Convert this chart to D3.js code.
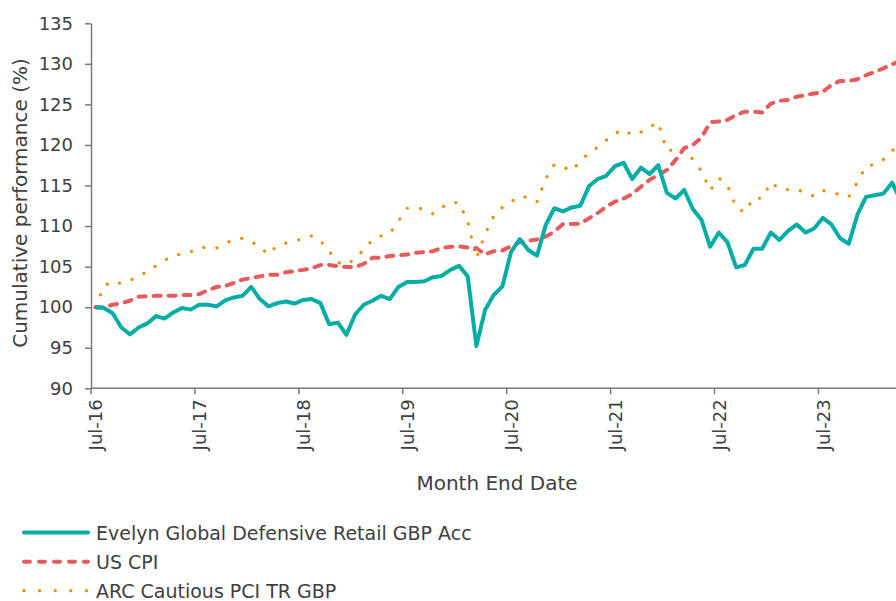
<!DOCTYPE html>
<html>
<head>
<meta charset="utf-8">
<script src="https://cdn.jsdelivr.net/npm/d3@7"></script>
<style>
  html, body { margin: 0; padding: 0; background: #fff; }
  svg { display: block; font-family: "DejaVu Sans", sans-serif; }
</style>
</head>
<body>
<svg id="chart" width="896" height="601"></svg>
<script>
// month-end categories, Jul-16 .. Apr-24
const months = d3.timeMonth.range(new Date(2016, 6, 1), new Date(2024, 4, 1));
const tickLabels = ["Jul-16", "Jul-17", "Jul-18", "Jul-19", "Jul-20", "Jul-21", "Jul-22", "Jul-23"];
const yTicks = [90, 95, 100, 105, 110, 115, 120, 125, 130, 135];

const fund = [
  100.0, 99.9, 99.25, 97.5, 96.65, 97.5, 98.0, 98.9, 98.6, 99.35, 99.9, 99.7,
  100.3, 100.3, 100.1, 100.85, 101.2, 101.4, 102.5, 101.0, 100.1, 100.5, 100.7, 100.45,
  100.9, 101.0, 100.5, 97.9, 98.1, 96.6, 99.1, 100.3, 100.8, 101.4, 101.0, 102.5,
  103.1, 103.1, 103.2, 103.7, 103.85, 104.6, 105.1, 103.8, 95.2, 99.65, 101.5, 102.55,
  106.8, 108.4, 107.05, 106.35, 110.1, 112.2, 111.8, 112.3, 112.5, 114.9, 115.8, 116.2,
  117.4, 117.8, 115.8, 117.2, 116.4, 117.5, 114.1, 113.4, 114.45, 112.1, 110.75, 107.45,
  109.2, 108.0, 104.9, 105.2, 107.2, 107.2, 109.2, 108.3, 109.4, 110.2, 109.2, 109.7,
  111.0, 110.2, 108.5, 107.8, 111.4, 113.6, 113.8, 114.0, 115.35, 113.2
];

const cpi = [
  100.0, 100.0, 100.3, 100.5, 100.8, 101.3, 101.35, 101.4, 101.4, 101.4, 101.5, 101.5,
  101.6, 102.1, 102.5, 102.6, 103.0, 103.4, 103.6, 103.8, 104.0, 104.0, 104.3, 104.45,
  104.6, 104.8, 105.2, 105.2, 105.05, 104.95, 104.95, 105.35, 106.1, 106.1, 106.3, 106.4,
  106.5, 106.7, 106.8, 106.9, 107.3, 107.45, 107.5, 107.35, 107.3, 106.5, 106.9, 107.0,
  107.5, 108.0, 108.2, 108.35, 108.7, 109.3, 110.25, 110.25, 110.3, 110.95, 111.6, 112.4,
  113.0, 113.4, 113.95, 114.85, 115.7, 116.3, 116.9, 118.15, 119.6, 120.0, 120.9, 122.8,
  122.9, 123.1, 123.7, 124.1, 124.1, 124.0, 125.1, 125.45, 125.55, 125.95, 126.15, 126.35,
  126.55, 127.4, 127.9, 127.9, 128.1, 128.6, 129.0, 129.45, 129.95, 130.4
];

const arc = [
  100.0, 102.6, 103.2, 102.9, 103.3, 103.8, 104.4, 105.1, 105.8, 106.3, 106.6, 106.8,
  107.4, 107.3, 107.3, 107.9, 108.3, 108.5, 108.1, 107.4, 106.5, 107.6, 107.9, 108.1,
  108.5, 108.8, 108.2, 106.9, 105.5, 105.2, 106.0, 107.1, 108.3, 108.8, 109.1, 110.6,
  112.2, 112.2, 112.1, 111.5, 112.3, 112.9, 112.9, 110.6, 106.0, 109.0, 111.2, 112.3,
  113.0, 113.7, 113.5, 113.0, 115.8, 117.6, 117.3, 116.8, 118.0, 119.0, 119.7, 120.6,
  121.4, 121.9, 121.2, 121.6, 122.2, 122.8, 119.3, 119.4, 119.6, 118.2, 116.8, 114.4,
  115.9, 115.0, 112.3, 111.7, 113.5, 113.4, 115.4, 114.6, 114.5, 114.6, 114.0, 113.7,
  114.4, 114.1, 113.9, 113.6, 115.4, 117.4, 117.6, 118.2, 119.3, 120.0
];

const seriesNames = ["Evelyn Global Defensive Retail GBP Acc", "US CPI", "ARC Cautious PCI TR GBP"];
const seriesData = [fund, cpi, arc];
const colors = ["#06ada7", "#e85b5d", "#f28c00"];

const svg = d3.select("#chart");
const textColor = "#404040";
const axisColor = "#7a7a7a";

const plotLeft = 91, plotTop = 23.3, plotBottom = 388.3;
const step = 8.66;

// category axis, points sit in the middle of each month
const x = d3.scaleBand()
  .domain(months)
  .range([plotLeft, plotLeft + months.length * step])
  .paddingInner(0).paddingOuter(0);
const xc = d => x(d) + x.bandwidth() / 2;

const y = d3.scaleLinear().domain([90, 135]).range([plotBottom, plotTop]);

// y axis
const yAxis = svg.append("g")
  .attr("transform", `translate(${plotLeft},0)`)
  .call(d3.axisLeft(y).tickValues(yTicks).tickSize(6).tickSizeOuter(0).tickPadding(12));
yAxis.selectAll("path, line").attr("stroke", axisColor).attr("stroke-width", 1.5);
yAxis.selectAll("text")
  .attr("fill", textColor)
  .attr("font-size", 18)
  .attr("font-family", "DejaVu Sans, sans-serif");

// x axis: ticks on category boundaries every 12 months
const tickMonths = months.filter((d, i) => i % 12 === 0);
const xAxis = svg.append("g");
xAxis.append("line")
  .attr("x1", plotLeft).attr("x2", 896)
  .attr("y1", plotBottom).attr("y2", plotBottom)
  .attr("stroke", axisColor).attr("stroke-width", 1.5);
xAxis.selectAll(".tick")
  .data(tickMonths)
  .join("line")
  .attr("x1", d => x(d)).attr("x2", d => x(d))
  .attr("y1", plotBottom).attr("y2", plotBottom + 6)
  .attr("stroke", axisColor).attr("stroke-width", 1.5);
xAxis.selectAll(".lbl")
  .data(tickMonths)
  .join("text")
  .attr("transform", d => `translate(${xc(d) + 7},${plotBottom + 11}) rotate(-90)`)
  .attr("text-anchor", "end")
  .attr("fill", textColor)
  .attr("font-size", 18)
  .text((d, i) => tickLabels[i]);

// axis titles
svg.append("text")
  .attr("x", 497).attr("y", 490)
  .attr("text-anchor", "middle")
  .attr("fill", textColor)
  .attr("font-size", 20)
  .text("Month End Date");

svg.append("text")
  .attr("transform", "translate(27,203) rotate(-90)")
  .attr("text-anchor", "middle")
  .attr("fill", textColor)
  .attr("font-size", 20)
  .text("Cumulative performance (%)");

// lines
const line = d3.line()
  .x((d, i) => xc(months[i]))
  .y(d => y(d));

const styles = [
  { width: 4, dash: null, cap: "butt" },
  { width: 4, dash: "7 8", cap: "round" },
  { width: 3.2, dash: "0.1 13.2", cap: "round" }
];

const plot = svg.append("g");
// draw CPI and ARC first, fund on top
[2, 1, 0].forEach(s => {
  plot.append("path")
    .datum(seriesData[s])
    .attr("d", line)
    .attr("fill", "none")
    .attr("stroke", colors[s])
    .attr("stroke-width", styles[s].width)
    .attr("stroke-linejoin", "round")
    .attr("stroke-linecap", styles[s].cap)
    .attr("stroke-dasharray", styles[s].dash);
});

// legend
const legend = svg.append("g");
const legendY = [532.5, 561.7, 590.7];
seriesNames.forEach((name, i) => {
  legend.append("line")
    .attr("x1", 24).attr("x2", 88)
    .attr("y1", legendY[i]).attr("y2", legendY[i])
    .attr("stroke", colors[i])
    .attr("stroke-width", styles[i].width)
    .attr("stroke-linecap", i === 0 ? "round" : styles[i].cap)
    .attr("stroke-dasharray", i === 1 ? "6 9" : (i === 2 ? "0.1 15.5" : null));
  legend.append("text")
    .attr("x", 96).attr("y", legendY[i] + 7)
    .attr("fill", textColor)
    .attr("font-size", 19)
    .text(name);
});
</script>
</body>
</html>
